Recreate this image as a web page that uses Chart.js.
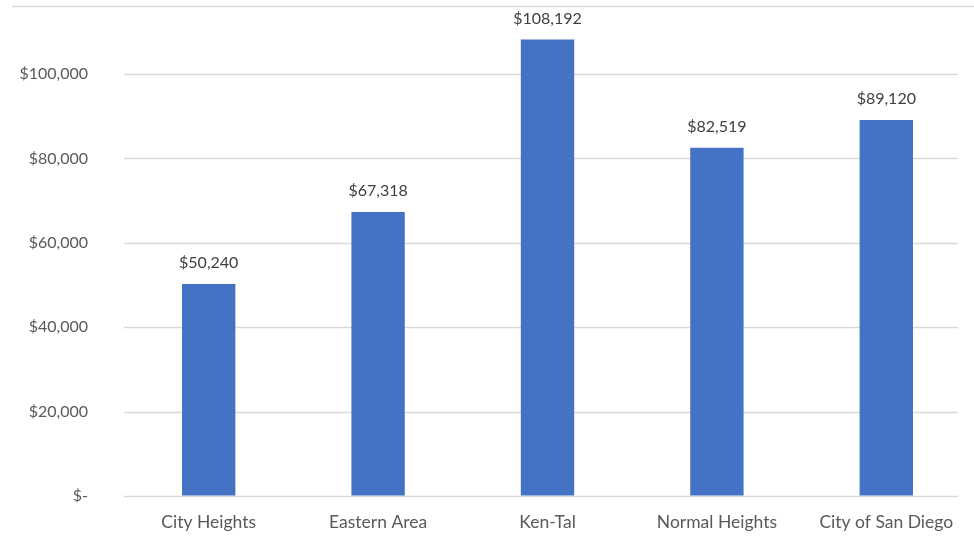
<!DOCTYPE html>
<html>
<head>
<meta charset="utf-8">
<script src="https://cdn.jsdelivr.net/npm/chart.js@4/dist/chart.umd.min.js"></script>
<style>
  html, body { margin: 0; padding: 0; background: #ffffff; }
  #wrap { width: 974px; height: 536px; position: relative; }
</style>
</head>
<body>
<div id="wrap"><canvas id="chart" width="974" height="536"></canvas></div>
<script>
// Median household income by area
const areas = ["City Heights", "Eastern Area", "Ken-Tal", "Normal Heights", "City of San Diego"];
const incomes = [50240, 67318, 108192, 82519, 89120];
const yTicks = [0, 20000, 40000, 60000, 80000, 100000];

const FONT = "Lato, 'Liberation Sans', sans-serif";
const GRID_COLOR = "#d9d9d9";

function money(v) {
  return v === 0 ? "$-" : "$" + v.toLocaleString("en-US");
}

// Horizontal gridlines, stopping a little short of the right edge
const gridLines = {
  id: "gridLines",
  beforeDatasetsDraw(chart) {
    const { ctx, chartArea, scales } = chart;
    ctx.save();
    ctx.strokeStyle = GRID_COLOR;
    ctx.lineWidth = 1.3;
    yTicks.forEach(v => {
      const y = Math.round(scales.y.getPixelForValue(v)) + 0.5;
      ctx.beginPath();
      ctx.moveTo(chartArea.left, y);
      ctx.lineTo(chartArea.right - 13, y);
      ctx.stroke();
    });
    ctx.restore();
  }
};

// Value labels above each bar
const valueLabels = {
  id: "valueLabels",
  afterDatasetsDraw(chart) {
    const ctx = chart.ctx;
    const meta = chart.getDatasetMeta(0);
    ctx.save();
    ctx.font = "16px " + FONT;
    ctx.fillStyle = "#404040";
    ctx.textAlign = "center";
    ctx.textBaseline = "bottom";
    meta.data.forEach((bar, i) => {
      ctx.fillText(money(incomes[i]), bar.x, bar.y - 13);
    });
    ctx.restore();
  }
};

// Thin frame line along the top edge
const topRule = {
  id: "topRule",
  beforeDraw(chart) {
    const ctx = chart.ctx;
    ctx.save();
    ctx.strokeStyle = GRID_COLOR;
    ctx.lineWidth = 1.5;
    ctx.beginPath();
    ctx.moveTo(12, 6.5);
    ctx.lineTo(chart.width, 6.5);
    ctx.stroke();
    ctx.restore();
  }
};

new Chart(document.getElementById("chart"), {
  type: "bar",
  data: {
    labels: areas,
    datasets: [{
      data: incomes,
      backgroundColor: "#4472C4",
      borderWidth: 0,
      barPercentage: 0.315,
      categoryPercentage: 1.0
    }]
  },
  options: {
    responsive: false,
    animation: false,
    layout: { padding: { top: 15, right: 3, bottom: 0, left: 0 } },
    plugins: {
      legend: { display: false },
      tooltip: { enabled: false }
    },
    scales: {
      x: {
        grid: { display: false, drawTicks: false },
        border: { display: false },
        ticks: {
          color: "#595959",
          font: { family: FONT, size: 17.5 },
          padding: 16,
          maxRotation: 0
        },
        afterFit(scale) { scale.height = 40; }
      },
      y: {
        min: 0,
        max: 114000,
        grid: {
          drawOnChartArea: false,
          drawTicks: true,
          tickLength: 36,
          tickColor: "rgba(0,0,0,0)"
        },
        border: { display: false },
        ticks: {
          color: "#595959",
          font: { family: FONT, size: 16 },
          padding: 0,
          callback: (v) => money(v)
        },
        afterBuildTicks(scale) {
          scale.ticks = yTicks.map(v => ({ value: v }));
        },
        afterFit(scale) { scale.width = 124; }
      }
    }
  },
  plugins: [topRule, gridLines, valueLabels]
});
</script>
</body>
</html>
